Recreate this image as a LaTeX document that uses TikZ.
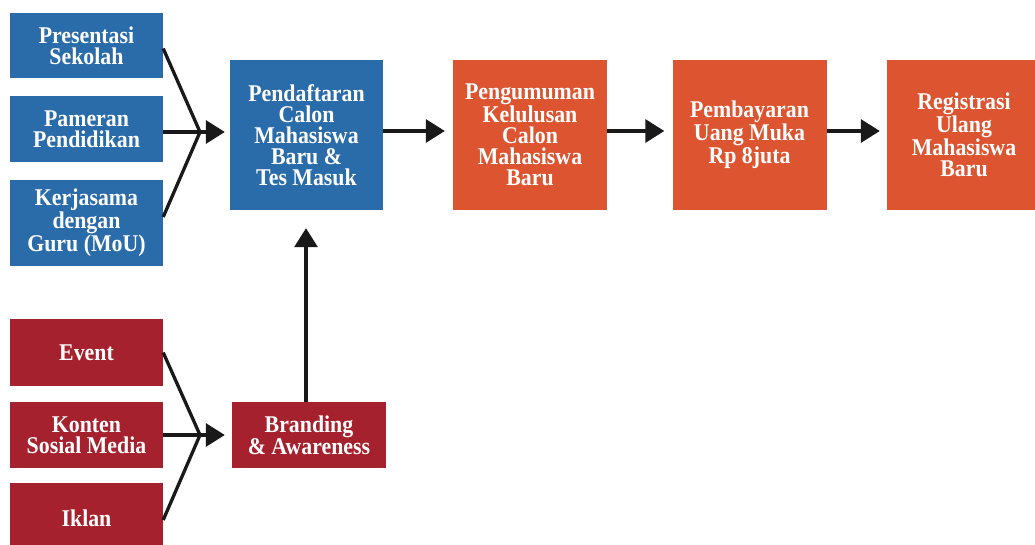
\documentclass[tikz,border=0pt]{standalone}
\usepackage{fontspec}
\setmainfont{Liberation Serif}[FakeStretch=0.91]
\usetikzlibrary{arrows.meta,calc}
\definecolor{cblue}{HTML}{2A6BA9}
\definecolor{cred}{HTML}{A6212E}
\definecolor{corange}{HTML}{DC5430}
\tikzset{
  box/.style={inner sep=0pt, text=white, align=center,
    font=\fontsize{24}{21}\selectfont\bfseries},
  bluebox/.style={box, fill=cblue},
  redbox/.style={box, fill=cred},
  orangebox/.style={box, fill=corange},
  conn/.style={line width=3.3pt, black!90},
  arr/.style={conn, -{Triangle[length=19pt,width=23pt]}},
}
\begin{document}
\begin{tikzpicture}[x=1pt,y=-1pt]
\clip (0,0) rectangle (1035,545);
\fill[white] (0,0) rectangle (1035,545);
% blue sources
\node[bluebox, minimum width=153pt, minimum height=65pt] (b1) at (86.5,45.5) {Presentasi\\Sekolah};
\node[bluebox, minimum width=153pt, minimum height=66pt] (b2) at (86.5,129) {Pameran\\Pendidikan};
\node[bluebox, minimum width=153pt, minimum height=86pt] (b3) at (86.5,223) {Kerjasama\\dengan\\Guru (MoU)};
% main flow
\node[bluebox, minimum width=153pt, minimum height=150pt] (pend) at (306.5,135) {Pendaftaran\\Calon\\Mahasiswa\\Baru \&\\Tes Masuk};
\node[orangebox, minimum width=154pt, minimum height=150pt] (peng) at (530,135) {Pengumuman\\Kelulusan\\Calon\\Mahasiswa\\Baru};
\node[orangebox, minimum width=154pt, minimum height=150pt] (pemb) at (749.5,135) {Pembayaran\\Uang Muka\\Rp 8juta};
\node[orangebox, minimum width=154pt, minimum height=150pt] (reg) at (964,135) {Registrasi\\Ulang\\Mahasiswa\\Baru};
% red sources
\node[redbox, minimum width=153pt, minimum height=67pt] (r1) at (86.5,352.5) {Event};
\node[redbox, minimum width=153pt, minimum height=66pt] (r2) at (86.5,435) {Konten\\Sosial Media};
\node[redbox, minimum width=153pt, minimum height=70pt] (r3) at (86.5,518) {Iklan};
\node[redbox, minimum width=154pt, minimum height=66pt] (brand) at (309,435) {Branding\\\& Awareness};
% merge points
\coordinate (m1) at (200,132);
\coordinate (m2) at (200,435);
% top fan-in
\draw[conn] ([yshift=-3pt]b1.east) -- (m1);
\draw[conn] ([yshift=-3pt]b2.east) -- (m1);
\draw[conn] ([yshift=6pt]b3.east) -- (m1);
\draw[arr, shorten >=5pt] (m1) -- (m1 -| pend.west);
% bottom fan-in
\draw[conn] (r1.east) -- (m2);
\draw[conn] (r2.east) -- (m2);
\draw[conn] ([yshift=-2pt]r3.east) -- (m2);
\draw[arr, shorten >=7pt] (m2) -- (brand.west);
% vertical
\draw[arr, shorten >=18pt] ([xshift=-3pt]brand.north) -- ([xshift=-3pt]brand.north |- pend.south);
% main flow arrows
\draw[arr, shorten >=8pt] ([yshift=4pt]pend.east) -- ([yshift=4pt]peng.west);
\draw[arr, shorten >=8pt] ([yshift=4pt]peng.east) -- ([yshift=4pt]pemb.west);
\draw[arr, shorten >=7pt] ([yshift=4pt]pemb.east) -- ([yshift=4pt]reg.west);
\end{tikzpicture}
\end{document}
